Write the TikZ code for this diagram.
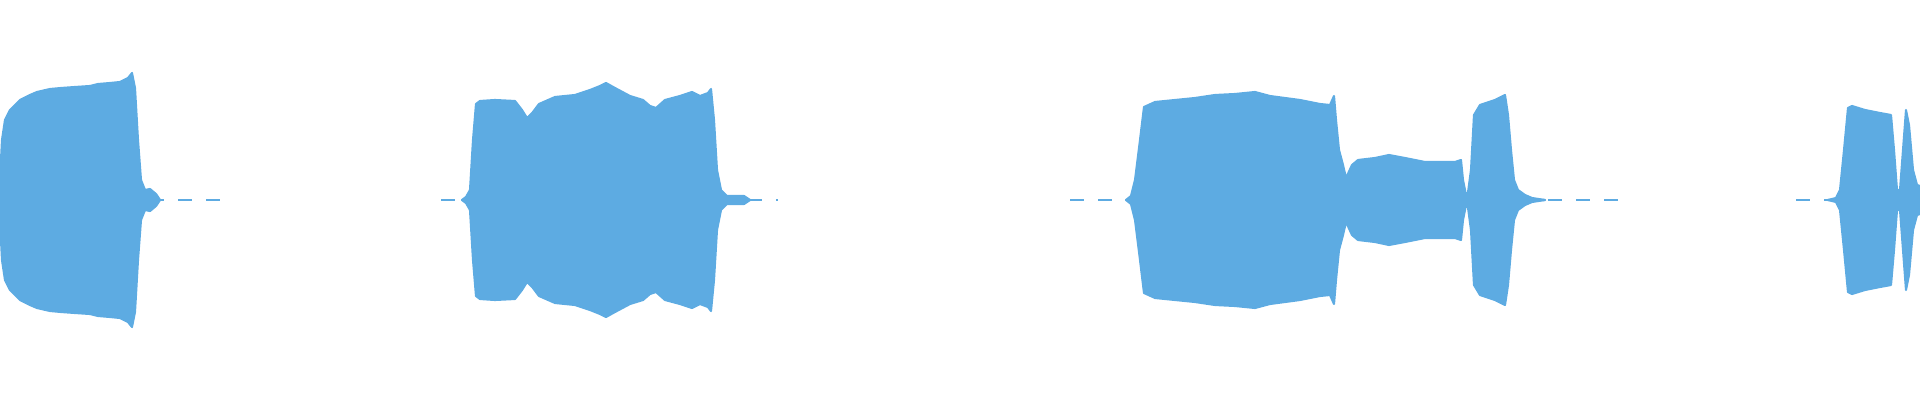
\documentclass[tikz,border=0pt]{standalone}
\definecolor{wv}{HTML}{5DABE2}
\tikzset{wfill/.style={fill=wv,draw=wv,line width=0.6pt,line join=round},
 base/.style={draw=wv,line width=0.8pt,dash pattern=on 4pt off 4pt}}
\newcommand\halfwave[1]{\fill[wfill] plot coordinates {#1} -- cycle;}
\newcommand\wave[1]{\halfwave{#1}\begin{scope}[shift={(0,400)},yscale=-1]\halfwave{#1}\end{scope}}
\begin{document}
\begin{tikzpicture}[x=0.01cm,y=-0.01cm]
\useasboundingbox (0,0) rectangle (1920,400);
\draw[base] (150,200)--(228,200) (441,200)--(465,200) (720,200)--(778,200)
 (1070,200)--(1126,200) (1520,200)--(1627,200) (1796,200)--(1830,200);
\wave{(0,200) (0,180) (2,140) (5,120) (10,110) (20,100) (30,95) (37,92) (50,89) (61,88) (75,87) (90,86) (98,84) (110,83) (120,82) (128,78) (132,73) (135,88) (138,140) (141,180) (145,190) (150,189) (156,194) (160,200)}
\wave{(462,200) (466,197) (470,190) (473,140) (476,104) (480,101) (495,100) (515,101) (522,110) (527,118) (533,112) (539,104) (555,97) (575,95) (590,90) (600,86) (606,83) (615,88) (630,96) (643,100) (650,106) (656,108) (665,100) (680,96) (692,92) (700,96) (708,93) (711,89) (714,120) (717,170) (721,190) (727,196) (744,196) (750,200)}
\wave{(1126,200) (1131,196) (1135,180) (1140,140) (1144,107) (1155,102) (1175,100) (1195,98) (1215,95) (1235,94) (1255,92) (1270,96) (1285,98) (1300,100) (1320,104) (1330,105) (1334,96) (1336,120) (1339,150) (1343,165) (1346,178) (1352,165) (1358,160) (1375,158) (1389,155) (1405,158) (1425,162) (1440,162) (1455,162) (1461,160) (1463,180) (1467,200) (1471,170) (1474,115) (1480,105) (1495,100) (1505,95) (1508,115) (1511,150) (1514,180) (1518,190) (1525,195) (1532,198) (1545,200)}
\wave{(1828,200) (1836,198) (1840,190) (1844,150) (1848,108) (1852,106) (1865,110) (1880,113) (1891,115) (1894,150) (1897,190) (1900,190) (1903,150) (1906,110) (1909,125) (1913,170) (1917,185) (1920,186) (1920,200)}
\end{tikzpicture}
\end{document}
